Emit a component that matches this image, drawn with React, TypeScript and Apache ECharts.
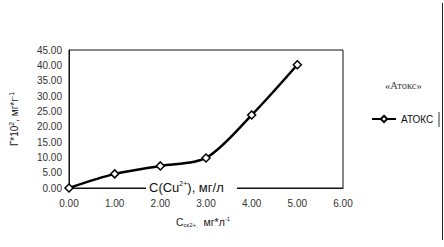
import React, { useEffect, useRef } from "react";
import * as echarts from "echarts";

const concentrations = [0, 1, 2, 3, 4, 5];
const adsorption = [0, 4.6, 7.2, 9.8, 23.8, 40.2];
const seriesName = "АТОКС";
const legendTitle = "«Атокс»";

export default function App() {
  const ref = useRef<HTMLDivElement>(null);
  useEffect(() => {
    if (!ref.current) return;
    const chart = echarts.init(ref.current, null, { renderer: "svg" });
    const font = "Arial, 'Liberation Sans', sans-serif";
    chart.setOption({
      animation: false,
      backgroundColor: "#fff",
      grid: {
        left: 66,
        right: 101,
        top: 50,
        bottom: 59,
        show: true,
        borderColor: "#111",
        borderWidth: 1,
        backgroundColor: "transparent",
      },
      xAxis: {
        type: "value",
        min: 0,
        max: 6,
        interval: 1,
        axisLine: { lineStyle: { color: "#111", width: 1 } },
        axisTick: { show: false },
        splitLine: { show: false },
        axisLabel: {
          color: "#333",
          fontSize: 10,
          fontFamily: font,
          margin: 10,
          formatter: (v: number) => v.toFixed(2),
        },
      },
      yAxis: {
        type: "value",
        min: 0,
        max: 45,
        interval: 5,
        name: "{a|Г*10}{s|2}{a|, мг*г}{s|-1}",
        nameLocation: "middle",
        nameGap: 48,
        nameRotate: 90,
        nameTextStyle: {
          rich: {
            a: { fontSize: 10, fontFamily: font, color: "#222" },
            s: { fontSize: 7, fontFamily: font, color: "#222", verticalAlign: "top", padding: [0, 0, 6, 0] },
          },
        },
        axisLine: { show: true, lineStyle: { color: "#111", width: 1 } },
        axisTick: { show: false },
        splitLine: { show: false },
        axisLabel: {
          color: "#333",
          fontSize: 10,
          fontFamily: font,
          margin: 7,
          formatter: (v: number) => v.toFixed(2),
        },
      },
      legend: {
        left: 371,
        top: 114,
        padding: 0,
        itemWidth: 24,
        itemHeight: 8,
        textStyle: { fontSize: 10, fontFamily: font, color: "#111" },
        data: [seriesName],
      },
      series: [
        {
          name: seriesName,
          type: "line",
          smooth: 0.3,
          data: concentrations.map((c, i) => [c, adsorption[i]]),
          symbol: "diamond",
          symbolSize: 8,
          lineStyle: { color: "#000", width: 2.5 },
          itemStyle: { color: "#fff", borderColor: "#000", borderWidth: 1.5 },
        },
      ],
      graphic: [
        {
          type: "rect",
          z: 100,
          shape: { x: 146, y: 180, width: 91, height: 15 },
          style: { fill: "#fff" },
        },
        {
          type: "text",
          z: 101,
          x: 149,
          y: 187,
          style: {
            text: "{a|C(Cu}{s|2+}{a|), мг/л}",
            verticalAlign: "middle",
            rich: {
              a: { fontSize: 13, fontFamily: font, fill: "#111" },
              s: { fontSize: 7, fontFamily: font, fill: "#111", verticalAlign: "top", padding: [0, 0, 8, 0] },
            },
          },
        },
        {
          type: "text",
          z: 101,
          x: 176,
          y: 222,
          style: {
            text: "{a|C}{b|ск2+,}{a|  мг*л}{s|-1}",
            verticalAlign: "middle",
            rich: {
              a: { fontSize: 10.5, fontFamily: font, fill: "#222" },
              b: { fontSize: 6, fontFamily: font, fill: "#222", padding: [6, 0, 0, 0] },
              s: { fontSize: 6, fontFamily: font, fill: "#222", padding: [0, 0, 6, 0] },
            },
          },
        },
        {
          type: "text",
          z: 101,
          x: 385,
          y: 85,
          style: {
            text: legendTitle,
            fontSize: 10.5,
            fontFamily: "'Liberation Serif', 'DejaVu Serif', serif",
            fill: "#444",
            verticalAlign: "middle",
          },
        },
        {
          type: "line",
          z: 101,
          shape: { x1: 439, y1: 112, x2: 439, y2: 127 },
          style: { stroke: "#333", lineWidth: 1 },
        },
        {
          type: "line",
          z: 101,
          shape: { x1: 442.5, y1: 3, x2: 442.5, y2: 240 },
          style: { stroke: "#222", lineWidth: 1 },
        },
      ],
    });
    return () => chart.dispose();
  }, []);
  return <div ref={ref} style={{ width: 444, height: 247, position: "absolute", left: 0, top: 0 }} />;
}
